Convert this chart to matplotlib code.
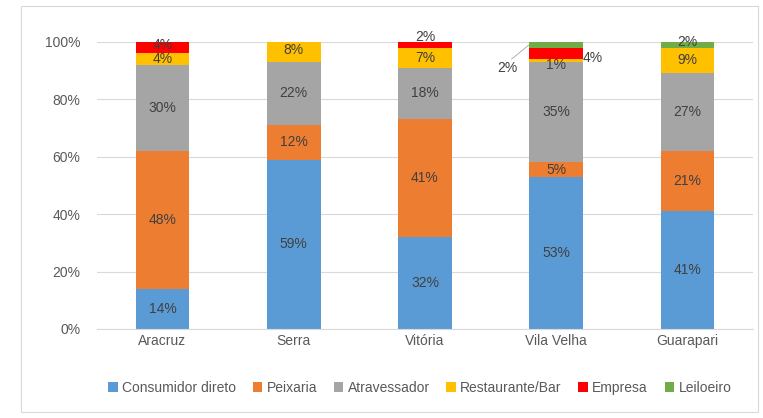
import numpy as np
import matplotlib
matplotlib.use("Agg")
import matplotlib.pyplot as plt
from matplotlib.patches import Rectangle

plt.rcParams['font.family'] = ['Liberation Sans', 'DejaVu Sans']

cidades = ['Aracruz', 'Serra', 'Vitória', 'Vila Velha', 'Guarapari']
series = ['Consumidor direto', 'Peixaria', 'Atravessador', 'Restaurante/Bar', 'Empresa', 'Leiloeiro']
consumidor = [14, 59, 32, 53, 41]
peixaria = [48, 12, 41, 5, 21]
atravessador = [30, 22, 18, 35, 27]
restaurante = [4, 8, 7, 1, 9]
empresa = [4, 0, 2, 4, 0]
leiloeiro = [0, 0, 0, 2, 2]
cores = ['#5B9BD5', '#ED7D31', '#A5A5A5', '#FFC000', '#FF0000', '#70AD47']

dados = [consumidor, peixaria, atravessador, restaurante, empresa, leiloeiro]

fig = plt.figure(figsize=(7.63, 4.18), dpi=100)
ax = fig.add_axes([0.127, 0.213, 0.86, 0.687])

x = np.arange(len(cidades))
base = np.zeros(len(cidades))
largura = 0.41
# deslocamentos para rotulos pequenos (serie, barra) -> (dx, dy em %)
ajuste = {(4, 0): (0, 0.8), (4, 2): (0, 2.5), (5, 4): (0, 1.0), (3, 3): (0, -1.5),
          (4, 3): (0.28, -1.5), (5, 3): (-0.37, -8)}
for i, (vals, cor) in enumerate(zip(dados, cores)):
    vals = np.array(vals, dtype=float)
    ax.bar(x, vals, largura, bottom=base, color=cor, label=series[i], zorder=2)
    for j, v in enumerate(vals):
        if v <= 0:
            continue
        cx, cy = x[j], base[j] + v / 2
        dx, dy = ajuste.get((i, j), (0, 0))
        ax.text(cx + dx, cy + dy, f'{int(v)}%', ha='center', va='center',
                fontsize=10, color='#404040', zorder=4)
        if (i, j) == (5, 3):
            ax.plot([cx + dx + 0.03, cx - largura / 2], [cy + dy + 3, cy],
                    color='#A5A5A5', lw=0.6, zorder=3)
    base += vals

ax.set_ylim(0, 100)
ax.set_xlim(-0.5, 4.5)
ax.set_yticks(np.arange(0, 101, 20))
ax.set_yticklabels([f'{v}%' for v in range(0, 101, 20)])
ax.set_xticks(x)
ax.set_xticklabels(cidades)
ax.tick_params(axis='both', length=0, labelsize=10, colors='#595959')
ax.tick_params(axis='y', pad=12)
ax.yaxis.grid(True, color='#D9D9D9', lw=0.8, zorder=0)
for s in ['top', 'right', 'left']:
    ax.spines[s].set_visible(False)
ax.spines['bottom'].set_color('#D9D9D9')

handles, labels = ax.get_legend_handles_labels()
fig.legend(handles, labels, loc='center', bbox_to_anchor=(0.55, 0.072), ncol=6,
           frameon=False, fontsize=10, handlelength=0.7, handleheight=0.7,
           handletextpad=0.3, columnspacing=1.2, labelcolor='#595959')

fig.patches.append(Rectangle((0.028, 0.015), 0.965, 0.97, transform=fig.transFigure,
                             fill=False, edgecolor='#D9D9D9', lw=0.8))

fig.savefig('out.png', dpi=100)
